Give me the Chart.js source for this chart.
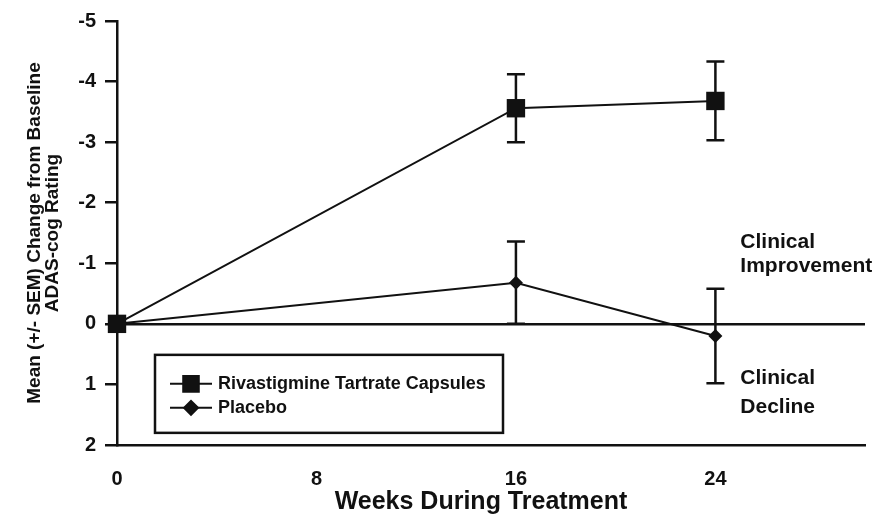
<!DOCTYPE html>
<html>
<head>
<meta charset="utf-8">
<script src="https://cdn.jsdelivr.net/npm/chart.js@4.4.1/dist/chart.umd.min.js"></script>
<style>
  html, body { margin: 0; padding: 0; background: #fff; }
</style>
</head>
<body>
<canvas id="chart" width="878" height="520"></canvas>
<script>
// data
var weeks = [0, 16, 24];
var rivaMean = [0, -3.56, -3.68];
var rivaSem = [0, 0.56, 0.65];
var placeboMean = [0, -0.68, 0.2];
var placeboSem = [0, 0.68, 0.78];
var xTicks = [0, 8, 16, 24];
var yTicks = [-5, -4, -3, -2, -1, 0, 1, 2];
var seriesNames = ["Rivastigmine Tartrate Capsules", "Placebo"];

var ink = '#111';
var font = "'Liberation Sans', Arial, sans-serif";

function toPoints(xs, ys) {
    return xs.map(function (x, i) { return { x: x, y: ys[i] }; });
}

// vertical SEM bars with caps, drawn under the markers
var errorBars = {
    id: 'errorBars',
    beforeDatasetsDraw: function (chart) {
        var ctx = chart.ctx;
        var xs = chart.scales.x, ys = chart.scales.y;
        ctx.save();
        ctx.strokeStyle = ink;
        ctx.lineWidth = 2.5;
        chart.data.datasets.forEach(function (ds) {
            ds.data.forEach(function (p, i) {
                var e = ds.sem[i];
                if (!e) return;
                var px = xs.getPixelForValue(p.x);
                var top = ys.getPixelForValue(p.y - e);
                var bot = ys.getPixelForValue(p.y + e);
                ctx.beginPath();
                ctx.moveTo(px, top); ctx.lineTo(px, bot);
                ctx.moveTo(px - 9, top); ctx.lineTo(px + 9, top);
                ctx.moveTo(px - 9, bot); ctx.lineTo(px + 9, bot);
                ctx.stroke();
            });
        });
        ctx.restore();
    }
};

// boxed legend, x title and the two side notes
var notes = {
    id: 'notes',
    afterDraw: function (chart) {
        var ctx = chart.ctx;
        var a = chart.chartArea;
        var zero = chart.scales.y.getPixelForValue(0);
        var nx = chart.scales.x.getPixelForValue(25);
        ctx.save();
        ctx.fillStyle = ink;
        ctx.strokeStyle = ink;

        // legend box
        var bx = a.left + 38, by = zero + 31, bw = 348, bh = 78;
        ctx.lineWidth = 2.5;
        ctx.strokeRect(bx, by, bw, bh);
        var rows = [by + 29, by + 53];
        var styles = ['rect', 'rectRot'];
        var radii = [11, 7];
        rows.forEach(function (ry, i) {
            ctx.lineWidth = 2;
            ctx.beginPath();
            ctx.moveTo(bx + 15, ry); ctx.lineTo(bx + 57, ry);
            ctx.stroke();
            Chart.helpers.drawPoint(ctx, { pointStyle: styles[i], radius: radii[i], borderWidth: 1 }, bx + 36, ry);
            ctx.fill();
            ctx.font = 'bold 18px ' + font;
            ctx.textBaseline = 'middle';
            ctx.textAlign = 'left';
            ctx.fillText(seriesNames[i], bx + 63, ry);
        });

        ctx.font = 'bold 21px ' + font;
        ctx.textBaseline = 'alphabetic';
        ctx.fillText('Clinical', nx, zero - 76);
        ctx.fillText('Improvement', nx, zero - 52);
        ctx.fillText('Clinical', nx, zero + 60);
        ctx.fillText('Decline', nx, zero + 89);

        ctx.font = 'bold 25px ' + font;
        ctx.textAlign = 'center';
        ctx.fillText('Weeks During Treatment', 481, a.bottom + 64);
        ctx.restore();
    }
};

var ctxL = document.getElementById("chart").getContext('2d');
var myChart = new Chart(ctxL, {
    type: 'line',
    data: {
        datasets: [{
            label: seriesNames[0],
            data: toPoints(weeks, rivaMean),
            sem: rivaSem,
            borderColor: ink,
            backgroundColor: ink,
            borderWidth: 2,
            pointStyle: 'rect',
            pointRadius: 13,
            pointBorderWidth: 0,
            clip: false,
            tension: 0
        },
        {
            label: seriesNames[1],
            data: toPoints(weeks, placeboMean),
            sem: placeboSem,
            borderColor: ink,
            backgroundColor: ink,
            borderWidth: 2,
            pointStyle: 'rectRot',
            pointRadius: 7,
            pointBorderWidth: 0,
            clip: false,
            tension: 0
        }]
    },
    options: {
        responsive: false,
        animation: false,
        layout: { padding: { top: 8, right: 10, left: 0, bottom: 0 } },
        plugins: {
            legend: { display: false },
            tooltip: { enabled: false }
        },
        scales: {
            x: {
                type: 'linear',
                min: 0,
                max: 30,
                afterBuildTicks: function (s) { s.ticks = xTicks.map(function (v) { return { value: v }; }); },
                afterFit: function (s) { s.height = 75; },
                grid: { drawOnChartArea: false, drawTicks: false },
                border: { color: ink, width: 2.5 },
                ticks: { color: ink, padding: 22, font: { family: font, size: 20, weight: 'bold' } }
            },
            y: {
                type: 'linear',
                reverse: true,
                min: -5,
                max: 2,
                afterBuildTicks: function (s) { s.ticks = yTicks.map(function (v) { return { value: v }; }); },
                afterFit: function (s) { s.width = 117; },
                grid: {
                    drawOnChartArea: true,
                    color: function (c) { return c.tick && c.tick.value === 0 ? ink : 'rgba(0,0,0,0)'; },
                    tickColor: ink,
                    tickLength: 12,
                    lineWidth: 2.5
                },
                border: { color: ink, width: 2.5 },
                ticks: { color: ink, padding: 9, font: { family: font, size: 20, weight: 'bold' } },
                title: {
                    display: true,
                    text: ['Mean (+/- SEM) Change from Baseline', 'ADAS-cog Rating'],
                    color: ink,
                    padding: { top: 26, bottom: 0 },
                    font: { family: font, size: 19, weight: 'bold', lineHeight: 0.95 }
                }
            }
        }
    },
    plugins: [errorBars, notes]
});
</script>
</body>
</html>
